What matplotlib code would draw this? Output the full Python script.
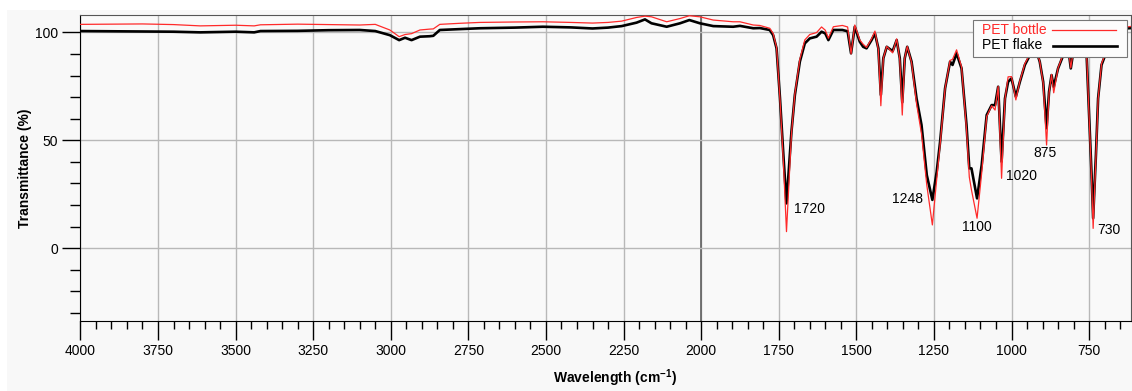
import matplotlib
matplotlib.use("Agg")
import matplotlib.pyplot as plt
from matplotlib.ticker import MultipleLocator
from matplotlib.patches import Rectangle

# fonte parecida com Arial
plt.rcParams['font.family'] = ['Liberation Sans', 'DejaVu Sans']
plt.rcParams['mathtext.default'] = 'regular'

numero_onda = [4000, 3900, 3800, 3700, 3614, 3500, 3440, 3420, 3300, 3200, 3100, 3050,
               3003, 2973, 2954, 2933, 2906, 2875, 2863, 2842, 2777, 2713, 2600, 2510,
               2420, 2350, 2300, 2256, 2208, 2181, 2160, 2111, 2068, 2038, 2004, 1961,
               1897, 1875, 1832, 1811, 1779, 1768, 1757, 1746, 1735, 1725, 1709, 1698,
               1682, 1666, 1650, 1628, 1612, 1600, 1590, 1574, 1545, 1528, 1517, 1505,
               1489, 1478, 1467, 1451, 1440, 1429, 1421, 1413, 1402, 1383, 1370, 1360,
               1352, 1344, 1336, 1322, 1306, 1290, 1273, 1255, 1241, 1230, 1214, 1198,
               1190, 1177, 1161, 1145, 1136, 1129, 1111, 1096, 1080, 1064, 1053, 1043,
               1032, 1021, 1011, 1000, 986, 973, 957, 935, 919, 909, 898, 887,
               879, 871, 864, 850, 833, 817, 809, 801, 785, 770, 758, 750,
               742, 737, 728, 721, 710, 694, 684, 650, 624, 610]

pet_flake = [100.6, 100.5, 100.4, 100.3, 100.0, 100.3, 100.0, 100.6, 100.7, 101.0, 101.1, 100.6,
             98.7, 96.4, 97.5, 96.4, 98.0, 98.2, 98.4, 101.1, 101.5, 101.9, 102.2, 102.6,
             102.3, 101.8, 102.2, 102.9, 104.5, 106.0, 104.2, 102.6, 104.2, 105.7, 104.2, 102.9,
             102.6, 103.0, 101.9, 102.0, 101.1, 98.7, 92.6, 69.6, 43.2, 20.8, 54.0, 71.0,
             86.4, 94.9, 97.2, 98.0, 100.3, 99.5, 96.4, 101.1, 101.1, 100.5, 90.3, 102.6,
             95.7, 93.3, 92.6, 96.4, 99.5, 92.6, 71.0, 88.0, 93.3, 91.3, 96.4, 88.0,
             67.6, 88.0, 93.3, 86.4, 69.4, 57.1, 33.9, 22.4, 35.5, 49.4, 74.1, 86.4,
             84.9, 90.3, 83.3, 57.1, 37.0, 37.0, 23.1, 38.6, 61.7, 66.3, 66.3, 74.8,
             40.1, 69.4, 77.1, 78.7, 70.2, 77.1, 84.9, 91.0, 91.0, 86.4, 77.1, 55.6,
             72.5, 80.2, 74.8, 83.3, 89.5, 92.6, 83.3, 91.0, 93.3, 92.5, 89.5, 61.7,
             33.9, 13.9, 43.2, 69.4, 84.9, 91.0, 98.7, 101.0, 101.9, 102.0]

pet_garrafa = [103.7, 103.8, 103.9, 103.6, 103.0, 103.3, 103.0, 103.5, 103.8, 103.6, 103.4, 103.7,
               101.1, 98.0, 99.0, 99.4, 101.1, 101.5, 101.6, 103.7, 104.2, 104.6, 104.8, 104.9,
               104.6, 104.3, 104.6, 105.2, 106.9, 107.5, 107.2, 104.9, 106.4, 107.7, 107.2, 105.7,
               104.9, 104.9, 103.4, 103.2, 101.9, 99.5, 93.0, 69.0, 40.0, 7.7, 53.0, 71.5,
               87.5, 96.5, 99.0, 99.9, 102.5, 101.0, 97.3, 102.6, 103.2, 102.5, 90.0, 103.4,
               96.5, 94.5, 93.0, 97.0, 100.6, 92.0, 66.0, 88.0, 93.5, 90.5, 97.0, 87.5,
               61.7, 88.0, 93.5, 86.0, 67.0, 53.0, 29.3, 10.8, 32.0, 48.0, 74.0, 87.0,
               87.5, 91.9, 84.0, 55.0, 33.0, 27.0, 13.9, 35.0, 61.0, 66.0, 64.0, 75.0,
               32.4, 69.0, 79.4, 79.5, 68.7, 77.5, 85.5, 91.5, 91.5, 86.5, 76.5, 47.8,
               72.0, 80.5, 72.0, 83.5, 90.0, 93.0, 83.5, 91.5, 93.8, 93.0, 90.0, 61.0,
               32.0, 9.2, 42.0, 69.0, 85.5, 91.5, 99.2, 102.0, 102.6, 102.8]

# rotulos dos picos
picos = ["1720", "1248", "1100", "1020", "875", "730"]
pos_rotulos = [(1650, 18.2), (1334, 22.8), (1112, 9.7), (967, 33.6), (892, 44.0), (686, 8.5)]

series = ["PET bottle", "PET flake"]
cores = ["#ff2a2a", "black"]

fig = plt.figure(figsize=(11.32, 3.91), dpi=100)
fig.patch.set_facecolor("white")
# painel cinza claro atras do grafico
fundo = Rectangle((7/1132, 0), 1, 1 - 10/391, transform=fig.transFigure,
                  facecolor="#f8f8f8", edgecolor="none", zorder=-10)
fig.add_artist(fundo)

ax = fig.add_axes([80.4/1132, 70/391, (1131 - 80.4)/1132, (321 - 15.3)/391])
ax.set_facecolor("#f9f9f9")

# grade
for x in range(4000, 600, -250):
    ax.axvline(x, color="#b8b8b8", lw=1, zorder=1)
ax.axvline(2000, color="#606060", lw=1.2, zorder=1)
for y in [0, 50, 100]:
    ax.axhline(y, color="#b8b8b8", lw=1, zorder=1)

ax.plot(numero_onda, pet_garrafa, color=cores[0], lw=0.9, zorder=3)
ax.plot(numero_onda, pet_flake, color=cores[1], lw=1.9, zorder=2)

for txt, (x, y) in zip(picos, pos_rotulos):
    ax.text(x, y, txt, fontsize=10, ha="center", va="center", zorder=5)

ax.set_xlim(4000, 615)
ax.set_ylim(-33.7, 107.9)

ax.xaxis.set_major_locator(MultipleLocator(250))
ax.xaxis.set_minor_locator(MultipleLocator(50))
ax.yaxis.set_major_locator(MultipleLocator(50))
ax.yaxis.set_minor_locator(MultipleLocator(10))
ax.tick_params(axis="x", which="major", direction="out", length=13.5, width=1, labelsize=10, pad=3)
ax.tick_params(axis="x", which="minor", direction="out", length=6, width=1)
ax.tick_params(axis="y", which="major", direction="out", length=13, width=1, labelsize=10, pad=3)
ax.tick_params(axis="y", which="minor", direction="out", length=7, width=1)

for lado in ["top", "right"]:
    ax.spines[lado].set_color("#555555")

# legenda feita a mao: texto a esquerda, linha a direita
caixa = Rectangle((0.8496, 0.8636), 0.9962 - 0.8496, 0.9846 - 0.8636, transform=ax.transAxes,
                  facecolor="#fcfcfc", edgecolor="#777777", lw=0.8, zorder=6)
ax.add_patch(caixa)
ax.text(0.8582, 0.9519, series[0], color=cores[0], fontsize=10, ha="left", va="center",
        transform=ax.transAxes, zorder=7)
ax.text(0.8582, 0.9028, series[1], color=cores[1], fontsize=10, ha="left", va="center",
        transform=ax.transAxes, zorder=7)
ax.plot([0.9248, 0.9857], [0.9519, 0.9519], color=cores[0], lw=0.9, transform=ax.transAxes, zorder=7)
ax.plot([0.9258, 0.9867], [0.8990, 0.8990], color=cores[1], lw=1.9, transform=ax.transAxes, zorder=7)

fig.text(25/1132, 1 - 168/391, "Transmittance (%)", rotation=90, ha="center", va="center",
         fontsize=10, fontweight="bold")
fig.text(615/1132, 1 - 378/391, "Wavelength (cm$^{-1}$)", ha="center", va="center",
         fontsize=10, fontweight="bold")

fig.savefig("out.png", dpi=100, facecolor=fig.get_facecolor())
